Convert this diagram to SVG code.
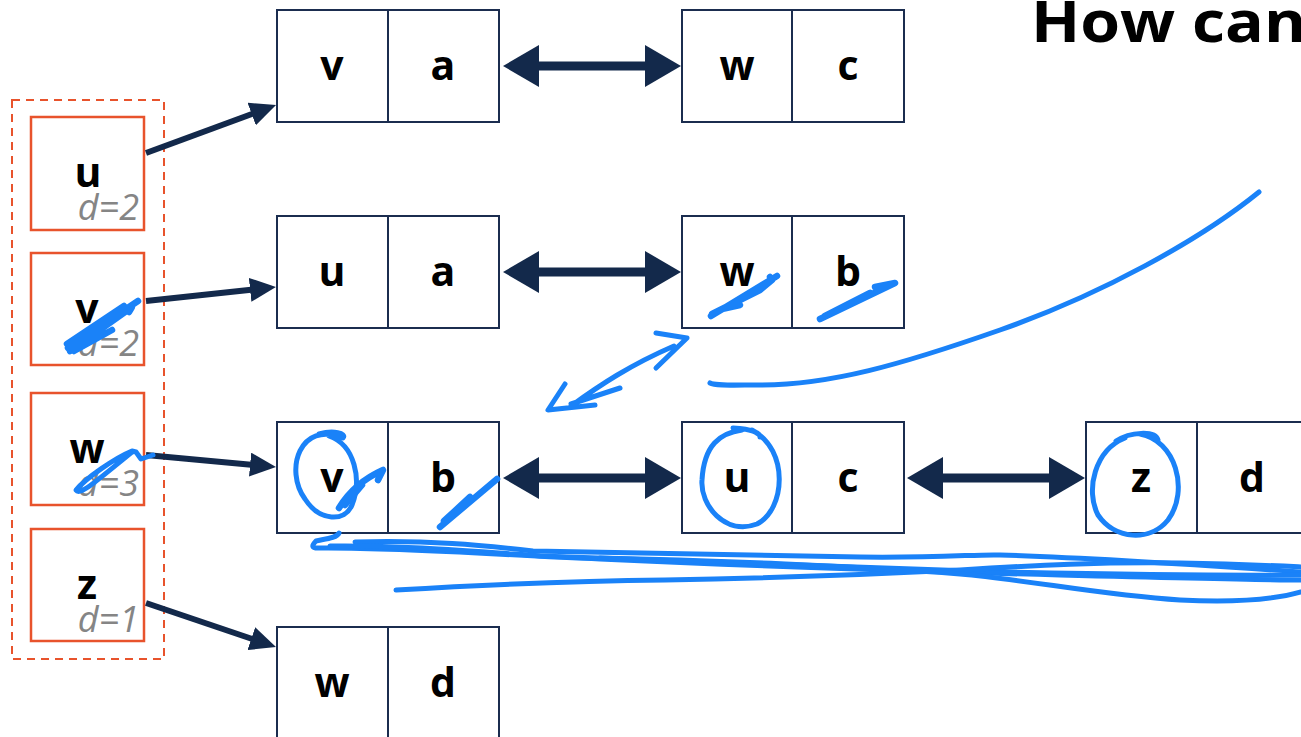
<svg xmlns="http://www.w3.org/2000/svg" width="1301" height="737" viewBox="0 0 1301 737">
  <style>
    .cell { fill: #FFFFFF; stroke: #1B2D4F; stroke-width: 2; }
    .div { stroke: #1B2D4F; stroke-width: 2; }
    .lbl { font-family: "Open Sans", "Liberation Sans", sans-serif; font-weight: 700; font-size: 41px; fill: #000000; text-anchor: middle; }
    .dist { font-family: "Open Sans", "Liberation Sans", sans-serif; font-style: italic; font-size: 36px; fill: #858585; text-anchor: end; }
    .vbox { fill: #FFFFFF; stroke: #E8532C; stroke-width: 2.5; }
    .frame { fill: none; stroke: #E8532C; stroke-width: 2; stroke-dasharray: 8 6; }
    .link { stroke: #13294B; stroke-width: 9; fill: none; }
    .ptr { stroke: #13294B; stroke-width: 6; fill: none; }
    .ink { fill: none; stroke: #1A82F8; stroke-width: 5; stroke-linecap: round; stroke-linejoin: round; }
    .ink-thick { fill: none; stroke: #1A82F8; stroke-width: 6.5; stroke-linecap: round; stroke-linejoin: round; }
    .title { font-family: "Open Sans", "Liberation Sans", sans-serif; font-weight: 700; font-size: 58px; fill: #000000; }
  </style>
  <defs>
    <marker id="bigHead" markerUnits="userSpaceOnUse" markerWidth="36" markerHeight="42" refX="2" refY="21" orient="auto-start-reverse" viewBox="0 0 36 42">
      <path d="M0,0 L36,21 L0,42 z" fill="#13294B"/>
    </marker>
    <marker id="ptrHead" markerUnits="userSpaceOnUse" markerWidth="26" markerHeight="24" refX="1" refY="12" orient="auto" viewBox="0 0 26 24">
      <path d="M0,0 L26,12 L0,24 z" fill="#13294B"/>
    </marker>
  </defs>

  <rect width="1301" height="737" fill="#FFFFFF"/>

  <!-- heading, runs past the right edge -->
  <text class="title" transform="translate(1031,42) scale(1.11,1)" x="0" y="0">How can</text>

  <!-- vertex table -->
  <g id="vertex-table">
    <rect class="frame" x="12" y="100" width="152" height="559"/>
  </g>
  <g id="vertex-u">
    <rect class="vbox" x="31" y="117" width="113" height="113"/>
    <text class="lbl" x="88" y="187">u</text>
    <text class="dist" x="139" y="220">d=2</text>
  </g>
  <g id="vertex-v">
    <rect class="vbox" x="31" y="253" width="113" height="112"/>
    <text class="lbl" x="87" y="323">v</text>
    <text class="dist" x="139" y="356">d=2</text>
  </g>
  <g id="vertex-w">
    <rect class="vbox" x="31" y="393" width="113" height="112"/>
    <text class="lbl" x="87" y="463">w</text>
    <text class="dist" x="139" y="496">d=3</text>
  </g>
  <g id="vertex-z">
    <rect class="vbox" x="31" y="529" width="113" height="112"/>
    <text class="lbl" x="87" y="599">z</text>
    <text class="dist" x="139" y="632">d=1</text>
  </g>

  <!-- edge records: row 1 -->
  <g id="edge-va">
    <rect class="cell" x="277" y="10" width="222" height="112"/>
    <line class="div" x1="388" y1="10" x2="388" y2="122"/>
    <text class="lbl" x="332" y="80">v</text>
    <text class="lbl" x="443" y="80">a</text>
  </g>
  <g id="edge-wc">
    <rect class="cell" x="682" y="10" width="222" height="112"/>
    <line class="div" x1="792" y1="10" x2="792" y2="122"/>
    <text class="lbl" x="737" y="80">w</text>
    <text class="lbl" x="848" y="80">c</text>
  </g>

  <!-- row 2 -->
  <g id="edge-ua">
    <rect class="cell" x="277" y="216" width="222" height="112"/>
    <line class="div" x1="388" y1="216" x2="388" y2="328"/>
    <text class="lbl" x="332" y="286">u</text>
    <text class="lbl" x="443" y="286">a</text>
  </g>
  <g id="edge-wb">
    <rect class="cell" x="682" y="216" width="222" height="112"/>
    <line class="div" x1="792" y1="216" x2="792" y2="328"/>
    <text class="lbl" x="737" y="286">w</text>
    <text class="lbl" x="848" y="286">b</text>
  </g>

  <!-- row 3 -->
  <g id="edge-vb">
    <rect class="cell" x="277" y="422" width="222" height="111"/>
    <line class="div" x1="388" y1="422" x2="388" y2="533"/>
    <text class="lbl" x="332" y="492">v</text>
    <text class="lbl" x="443" y="492">b</text>
  </g>
  <g id="edge-uc">
    <rect class="cell" x="682" y="422" width="222" height="111"/>
    <line class="div" x1="792" y1="422" x2="792" y2="533"/>
    <text class="lbl" x="737" y="492">u</text>
    <text class="lbl" x="848" y="492">c</text>
  </g>
  <g id="edge-zd">
    <rect class="cell" x="1086" y="422" width="222" height="111"/>
    <line class="div" x1="1197" y1="422" x2="1197" y2="533"/>
    <text class="lbl" x="1141" y="492">z</text>
    <text class="lbl" x="1252" y="492">d</text>
  </g>

  <!-- row 4 -->
  <g id="edge-wd">
    <rect class="cell" x="277" y="627" width="222" height="112"/>
    <line class="div" x1="388" y1="627" x2="388" y2="739"/>
    <text class="lbl" x="332" y="697">w</text>
    <text class="lbl" x="443" y="697">d</text>
  </g>

  <!-- connectors -->
  <g id="connectors">
    <line class="link" x1="537" y1="66" x2="647" y2="66" marker-start="url(#bigHead)" marker-end="url(#bigHead)"/>
    <line class="link" x1="537" y1="272" x2="647" y2="272" marker-start="url(#bigHead)" marker-end="url(#bigHead)"/>
    <line class="link" x1="537" y1="478" x2="647" y2="478" marker-start="url(#bigHead)" marker-end="url(#bigHead)"/>
    <line class="link" x1="941" y1="478" x2="1051" y2="478" marker-start="url(#bigHead)" marker-end="url(#bigHead)"/>

    <line class="ptr" x1="146" y1="153" x2="252.6" y2="113.7" marker-end="url(#ptrHead)"/>
    <line class="ptr" x1="146" y1="301" x2="251.1" y2="289.7" marker-end="url(#ptrHead)"/>
    <line class="ptr" x1="146" y1="455" x2="251.1" y2="464.7" marker-end="url(#ptrHead)"/>
    <line class="ptr" x1="146" y1="603" x2="252.3" y2="639" marker-end="url(#ptrHead)"/>
  </g>

  <!-- hand-drawn ink -->
  <g id="ink">
    <!-- strike over v in the vertex table -->
    <path class="ink-thick" d="M68,348 L138,301 M70,351 L132,307 L129,312 M67,344 L124,306 M74,351 L112,330"/>
    <!-- loop over w in the vertex table -->
    <path class="ink" d="M153,455 L141,459 L136,452 L132,451 C115,458 86,478 76,490 C80,496 95,482 132,452"/>
    <!-- strikes in edge record w,b -->
    <path class="ink-thick" d="M711,316 L777,276 M712,314 L760,290 L772,280 L770,277 M722,309 L740,305"/>
    <path class="ink-thick" d="M820,319 L895,283 L875,287 M825,316 L870,293"/>
    <!-- two-headed sketch arrow -->
    <path class="ink" d="M571,406 C600,385 630,365 674,346 M656,333 L687,338 L656,368 M620,388 L571,404 M565,384 L548,410 L595,405"/>
    <!-- long sweep -->
    <path class="ink" d="M1259,192 C1200,240 1100,295 1000,330 C900,365 830,385 760,385 C735,385 715,386 710,383"/>
    <!-- circles in row 3 -->
    <path class="ink" d="M319,434 C333,430 347,433 343,438 C300,420 284,470 305,499 C320,522 345,522 352,505 C362,480 355,445 329,436"/>
    <path class="ink-thick" d="M339,508 C350,490 365,478 383,470 L378,480 M345,505 L362,485"/>
    <path class="ink-thick" d="M440,527 L497,479 M444,521 L470,497"/>
    <path class="ink" d="M733,428 C750,429 760,432 760,437 M752,430 C790,450 785,510 757,524 C725,536 700,505 702,480 C704,445 720,433 742,430"/>
    <path class="ink" d="M1116,441 C1130,432 1155,430 1158,440 M1140,434 C1175,440 1190,490 1168,520 C1150,542 1115,540 1098,515 C1085,490 1095,450 1125,438"/>
    <!-- underline scribbles -->
    <path class="ink" d="M339,533 C337,538 325,539 316,541 C311,546 312,548 318,548 C400,547 500,555 600,559 C750,566 900,571 1060,575 C1180,578 1260,580 1301,580"/>
    <path class="ink" d="M355,542 C430,540 480,545 533,551 C600,553 700,554 860,557 C940,558 980,554 1000,555 C1100,558 1200,565 1301,572"/>
    <path class="ink" d="M330,546 C400,545 470,551 540,556 C700,562 850,568 1000,572 C1100,574 1200,576 1301,575"/>
    <path class="ink" d="M396,590 C480,585 560,581 665,580 C780,578 880,574 960,570 C1040,565 1100,562 1180,563 C1240,564 1280,566 1301,567"/>
    <path class="ink" d="M600,558 C700,560 860,566 960,574 C1030,580 1100,595 1180,600 C1240,603 1280,598 1301,592"/>
  </g>
</svg>
